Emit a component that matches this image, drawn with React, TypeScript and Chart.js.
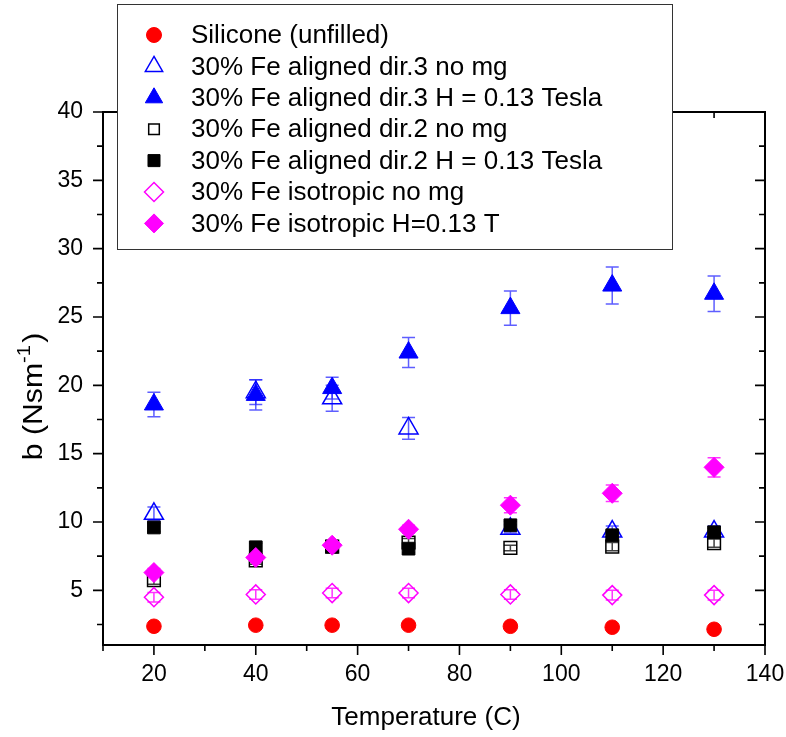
import React, { useEffect, useRef } from 'react';
import { Chart, registerables } from 'chart.js';

Chart.register(...registerables);

// ---- Data ----
const temps = [20, 40, 55, 70, 90, 110, 130];

const silicone = [2.37, 2.45, 2.45, 2.45, 2.37, 2.3, 2.15];
const dir3NoMg = [10.6, 19.5, 19.05, 16.85, 9.5, 9.3, 9.3];
const dir3Field = [18.6, 19.3, 19.8, 22.4, 25.65, 27.3, 26.7];
const dir2NoMg = [5.75, 7.2, 8.2, 8.5, 8.1, 8.2, 8.45];
const dir2Field = [9.6, 8.15, 8.2, 8.05, 9.76, 9.03, 9.25];
const isoNoMg = [4.5, 4.7, 4.8, 4.8, 4.7, 4.65, 4.65];
const isoField = [6.3, 7.4, 8.3, 9.47, 11.23, 12.1, 14.0];

const siliconeErr = [0.1, 0.1, 0.1, 0.1, 0.1, 0.1, 0.1];
const dir3NoMgErr = [0.5, 0.9, 0.95, 0.8, 0.3, 0.4, 0.4];
const dir3FieldErr = [0.9, 1.1, 0.8, 1.1, 1.25, 1.35, 1.3];
const dir2NoMgErr = [0.3, 0.3, 0.3, 0.3, 0.2, 0.3, 0.3];
const dir2FieldErr = [0.3, 0.3, 0.3, 0.3, 0.3, 0.3, 0.3];
const isoNoMgErr = [0.35, 0.35, 0.35, 0.35, 0.35, 0.35, 0.35];
const isoFieldErr = [0.3, 0.3, 0.3, 0.3, 0.55, 0.6, 0.7];

const seriesLabels = [
  'Silicone (unfilled)',
  '30% Fe aligned dir.3 no mg',
  '30% Fe aligned dir.3 H = 0.13 Tesla',
  '30% Fe aligned dir.2 no mg',
  '30% Fe aligned dir.2 H = 0.13 Tesla',
  '30% Fe isotropic no mg',
  '30% Fe isotropic H=0.13 T',
];

const xMajorTicks = [20, 40, 60, 80, 100, 120, 140];
const xMinorTicks = [10, 30, 50, 70, 90, 110, 130];
const yMajorTicks = [5, 10, 15, 20, 25, 30, 35, 40];
const yMinorTicks = [2.5, 7.5, 12.5, 17.5, 22.5, 27.5, 32.5, 37.5];

const xTitle = 'Temperature (C)';
const yTitleMain = 'b (Nsm';
const yTitleSup = '-1';
const yTitleEnd = ')';

const FONT = 'Arial, "Liberation Sans", Helvetica, sans-serif';

const RED = '#ff0000';
const BLUE = '#0000ff';
const BLACK = '#000000';
const MAGENTA = '#ff00ff';

type SeriesStyle = {
  values: number[];
  errors: number[];
  color: string;
  errColor: string;
  pointStyle: string;
  radius: number;
  filled: boolean;
};

const series: SeriesStyle[] = [
  { values: silicone, errors: siliconeErr, color: RED, errColor: 'rgba(255,0,0,0.8)', pointStyle: 'circle', radius: 7.3, filled: true },
  { values: dir3NoMg, errors: dir3NoMgErr, color: BLUE, errColor: 'rgba(40,40,255,0.75)', pointStyle: 'triangle', radius: 11, filled: false },
  { values: dir3Field, errors: dir3FieldErr, color: BLUE, errColor: 'rgba(40,40,255,0.75)', pointStyle: 'triangle', radius: 11, filled: true },
  { values: dir2NoMg, errors: dir2NoMgErr, color: BLACK, errColor: 'rgba(0,0,0,0.75)', pointStyle: 'rect', radius: 9, filled: false },
  { values: dir2Field, errors: dir2FieldErr, color: BLACK, errColor: 'rgba(0,0,0,0.75)', pointStyle: 'rect', radius: 9, filled: true },
  { values: isoNoMg, errors: isoNoMgErr, color: MAGENTA, errColor: 'rgba(255,0,255,0.8)', pointStyle: 'rectRot', radius: 9.5, filled: false },
  { values: isoField, errors: isoFieldErr, color: MAGENTA, errColor: 'rgba(255,0,255,0.8)', pointStyle: 'rectRot', radius: 10, filled: true },
];

function drawMarker(ctx: CanvasRenderingContext2D, s: SeriesStyle, x: number, y: number) {
  const r = s.radius;
  ctx.save();
  ctx.beginPath();
  if (s.pointStyle === 'circle') {
    ctx.arc(x, y, r, 0, Math.PI * 2);
  } else if (s.pointStyle === 'triangle') {
    for (let k = 0; k < 3; k++) {
      const a = (k * 2 * Math.PI) / 3;
      const px = x + Math.sin(a) * r;
      const py = y - Math.cos(a) * r;
      if (k === 0) ctx.moveTo(px, py);
      else ctx.lineTo(px, py);
    }
    ctx.closePath();
  } else if (s.pointStyle === 'rect') {
    const h = Math.SQRT1_2 * r;
    ctx.rect(x - h, y - h, 2 * h, 2 * h);
  } else {
    ctx.moveTo(x, y - r);
    ctx.lineTo(x + r, y);
    ctx.lineTo(x, y + r);
    ctx.lineTo(x - r, y);
    ctx.closePath();
  }
  if (s.filled) {
    ctx.fillStyle = s.color;
    ctx.fill();
  }
  ctx.strokeStyle = s.color;
  ctx.lineWidth = s.filled ? 1 : 1.5;
  ctx.stroke();
  ctx.restore();
}

const errorBarPlugin = {
  id: 'errorBars',
  beforeDatasetsDraw(chart: any) {
    const { ctx, scales } = chart;
    const xs = scales.x;
    const ys = scales.y;
    ctx.save();
    series.forEach((s) => {
      ctx.strokeStyle = s.errColor;
      ctx.lineWidth = 1.5;
      temps.forEach((t, i) => {
        const e = s.errors[i];
        if (!e) return;
        const px = xs.getPixelForValue(t);
        const top = ys.getPixelForValue(s.values[i] + e);
        const bot = ys.getPixelForValue(s.values[i] - e);
        ctx.beginPath();
        ctx.moveTo(px, top);
        ctx.lineTo(px, bot);
        ctx.moveTo(px - 6.5, top);
        ctx.lineTo(px + 6.5, top);
        ctx.moveTo(px - 6.5, bot);
        ctx.lineTo(px + 6.5, bot);
        ctx.stroke();
      });
    });
    ctx.restore();
  },
};

const framePlugin = {
  id: 'frame',
  afterDraw(chart: any) {
    const { ctx, chartArea, scales } = chart;
    const xs = scales.x;
    const ys = scales.y;
    const { left, right, top, bottom } = chartArea;
    ctx.save();
    ctx.strokeStyle = '#000';
    ctx.lineCap = 'square';
    ctx.lineWidth = 2;
    ctx.beginPath();
    ctx.rect(left, top, right - left, bottom - top);
    ctx.stroke();

    ctx.lineWidth = 1.6;
    ctx.lineCap = 'butt';
    ctx.beginPath();
    const maj = 10;
    const min = 6;
    xMajorTicks.forEach((v) => {
      const px = xs.getPixelForValue(v);
      ctx.moveTo(px, bottom);
      ctx.lineTo(px, bottom + maj);
      ctx.moveTo(px, top);
      ctx.lineTo(px, top + maj);
    });
    xMinorTicks.forEach((v) => {
      const px = xs.getPixelForValue(v);
      ctx.moveTo(px, bottom);
      ctx.lineTo(px, bottom + min);
      ctx.moveTo(px, top);
      ctx.lineTo(px, top + min);
    });
    yMajorTicks.forEach((v) => {
      const py = ys.getPixelForValue(v);
      ctx.moveTo(left, py);
      ctx.lineTo(left - maj, py);
      ctx.moveTo(right, py);
      ctx.lineTo(right - maj, py);
    });
    yMinorTicks.forEach((v) => {
      const py = ys.getPixelForValue(v);
      ctx.moveTo(left, py);
      ctx.lineTo(left - min, py);
      ctx.moveTo(right, py);
      ctx.lineTo(right - min, py);
    });
    ctx.stroke();

    // axis titles
    ctx.fillStyle = '#000';
    ctx.font = `26px ${FONT}`;
    ctx.textAlign = 'center';
    ctx.textBaseline = 'middle';
    ctx.fillText(xTitle, (left + right) / 2 - 8, bottom + 73);

    ctx.save();
    const mainFont = `27px ${FONT}`;
    const supFont = `18px ${FONT}`;
    ctx.font = mainFont;
    const w1 = ctx.measureText(yTitleMain).width;
    const w3 = ctx.measureText(yTitleEnd).width;
    ctx.font = supFont;
    const w2 = ctx.measureText(yTitleSup).width;
    const total = w1 + w2 + 2 + w3;
    ctx.translate(42, (top + bottom) / 2 + 18);
    ctx.rotate(-Math.PI / 2);
    ctx.scale(1.12, 1);
    ctx.textAlign = 'left';
    ctx.textBaseline = 'alphabetic';
    let cx = -total / 2;
    ctx.font = mainFont;
    ctx.fillText(yTitleMain, cx, 0);
    cx += w1;
    ctx.font = supFont;
    ctx.fillText(yTitleSup, cx, -12);
    cx += w2 + 2;
    ctx.font = mainFont;
    ctx.fillText(yTitleEnd, cx, 0);
    ctx.restore();

    // legend box
    const lx = left + 14;
    const ly = top - 108;
    const lw = 555;
    const lh = 245;
    ctx.fillStyle = '#fff';
    ctx.fillRect(lx, ly, lw, lh);
    ctx.strokeStyle = '#333';
    ctx.lineWidth = 1;
    ctx.strokeRect(lx + 0.5, ly + 0.5, lw, lh);
    ctx.font = `26px ${FONT}`;
    ctx.textAlign = 'left';
    ctx.textBaseline = 'middle';
    series.forEach((s, i) => {
      const cy = ly + 31 + i * 31.4;
      const lr = s.pointStyle === 'rect' ? (s.filled ? 8.5 : 7.5) : s.pointStyle === 'circle' ? 7.5 : s.pointStyle === 'triangle' ? 10 : 9.5;
      drawMarker(ctx, { ...s, radius: lr }, lx + 37, cy);
      ctx.fillStyle = '#000';
      ctx.fillText(seriesLabels[i], lx + 74, cy + 1);
    });
    ctx.restore();
  },
};

export default function App() {
  const canvasRef = useRef<HTMLCanvasElement | null>(null);

  useEffect(() => {
    const canvas = canvasRef.current;
    if (!canvas) return;
    const n = series.length;
    const datasets = series.map((s, i) => ({
      label: seriesLabels[i],
      data: temps.map((t, k) => ({ x: t, y: s.values[k] })),
      showLine: false,
      pointStyle: s.pointStyle,
      pointRadius: s.radius,
      pointHoverRadius: s.radius,
      pointBackgroundColor: s.filled ? s.color : 'rgba(0,0,0,0)',
      pointBorderColor: s.color,
      pointBorderWidth: s.filled ? 1 : 1.5,
      backgroundColor: s.filled ? s.color : 'rgba(0,0,0,0)',
      borderColor: s.color,
      order: n - i,
    }));

    const chart = new Chart(canvas, {
      type: 'scatter',
      data: { datasets },
      options: {
        animation: false,
        responsive: false,
        devicePixelRatio: 1,
        layout: { padding: { top: 112, right: 21, left: 0, bottom: 0 } },
        plugins: {
          legend: { display: false },
          tooltip: { enabled: false },
        },
        scales: {
          x: {
            type: 'linear',
            min: 10,
            max: 140,
            grid: { display: false, drawTicks: false },
            border: { display: false },
            ticks: {
              color: '#000',
              font: { size: 23, family: FONT },
              padding: 16,
              maxRotation: 0,
              autoSkip: false,
            },
            afterBuildTicks: (scale: any) => {
              scale.ticks = xMajorTicks.map((v) => ({ value: v }));
            },
            afterFit: (scale: any) => {
              scale.height = 92;
              scale.paddingLeft = 0;
              scale.paddingRight = 0;
            },
          },
          y: {
            type: 'linear',
            min: 1,
            max: 40,
            grid: { display: false, drawTicks: false },
            border: { display: false },
            ticks: {
              color: '#000',
              font: { size: 23, family: FONT },
              padding: 20,
              autoSkip: false,
            },
            afterBuildTicks: (scale: any) => {
              scale.ticks = yMajorTicks.map((v) => ({ value: v }));
            },
            afterFit: (scale: any) => {
              scale.width = 103;
              scale.paddingTop = 0;
              scale.paddingBottom = 0;
            },
          },
        },
      },
      plugins: [errorBarPlugin, framePlugin],
    } as any);

    return () => chart.destroy();
  }, []);

  return (
    <div style={{ position: 'fixed', left: 0, top: 0, width: 786, height: 737, background: '#fff' }}>
      <canvas ref={canvasRef} width={786} height={737} style={{ width: 786, height: 737, display: 'block' }} />
    </div>
  );
}
